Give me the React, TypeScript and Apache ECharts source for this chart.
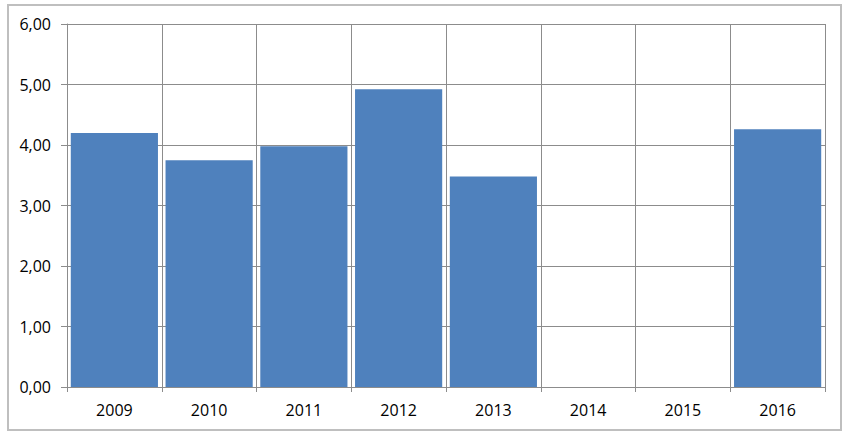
import React, { useEffect, useRef } from "react";
import * as echarts from "echarts";

const categories = ["2009", "2010", "2011", "2012", "2013", "2014", "2015", "2016"];
const values: (number | null)[] = [4.2, 3.75, 3.98, 4.92, 3.48, null, null, 4.26];
const yMin = 0;
const yMax = 6;
const yInterval = 1;

export default function App() {
  const ref = useRef<HTMLDivElement>(null);
  useEffect(() => {
    if (!ref.current) return;
    const chart = echarts.init(ref.current, null, { renderer: "svg" });
    const font = "'Open Sans', 'Liberation Sans', sans-serif";
    chart.setOption({
      animation: false,
      backgroundColor: "#ffffff",
      graphic: [
        {
          type: "rect",
          shape: { x: 8, y: 5, width: 833, height: 425 },
          style: { fill: "none", stroke: "#BFBFBF", lineWidth: 2 },
          silent: true,
        },
      ],
      grid: { left: 67, right: 30, top: 24, bottom: 52 },
      xAxis: {
        type: "category",
        data: categories,
        boundaryGap: true,
        axisLine: { show: true, lineStyle: { color: "#8C8C8C", width: 1 } },
        axisTick: { show: true, length: 5, lineStyle: { color: "#8C8C8C" } },
        splitLine: { show: true, lineStyle: { color: "#8C8C8C", width: 1 } },
        axisLabel: { color: "#000", fontFamily: font, fontSize: 16, margin: 15 },
      },
      yAxis: {
        type: "value",
        min: yMin,
        max: yMax,
        interval: yInterval,
        axisLine: { show: true, lineStyle: { color: "#8C8C8C", width: 1 } },
        axisTick: { show: true, length: 6, lineStyle: { color: "#8C8C8C" } },
        splitLine: { show: true, lineStyle: { color: "#8C8C8C", width: 1 } },
        axisLabel: {
          color: "#000",
          fontFamily: font,
          fontSize: 16,
          margin: 16,
          formatter: (v: number) => v.toFixed(2).replace(".", ","),
        },
      },
      series: [
        {
          type: "bar",
          data: values,
          barCategoryGap: "8%",
          itemStyle: { color: "#4F81BD" },
        },
      ],
    });
    return () => chart.dispose();
  }, []);
  return (
    <div
      ref={ref}
      style={{ position: "fixed", left: 0, top: 0, width: 855, height: 439 }}
    />
  );
}
